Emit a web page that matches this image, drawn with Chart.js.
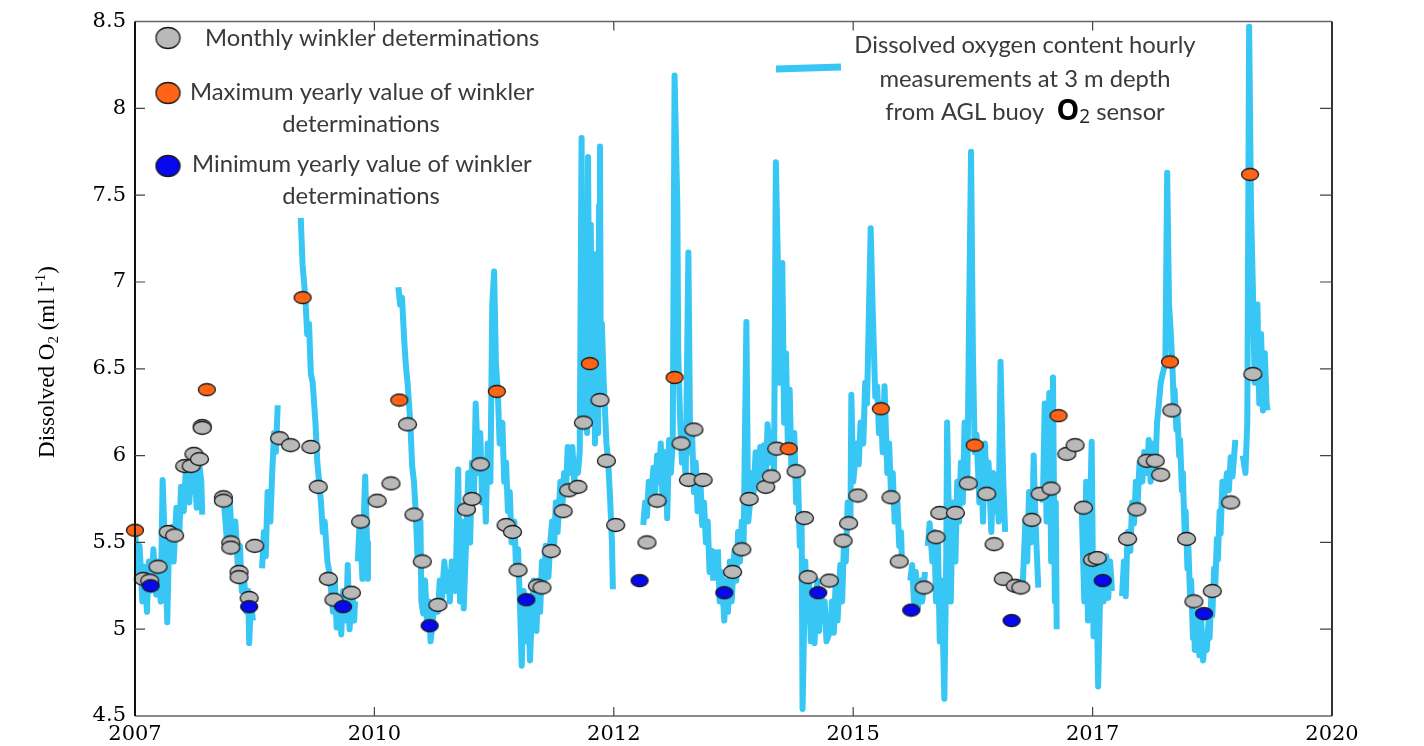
<!DOCTYPE html>
<html>
<head>
<meta charset="utf-8">
<script src="https://cdn.jsdelivr.net/npm/chart.js@4.4.1/dist/chart.umd.min.js"></script>
<style>
  html, body { margin: 0; padding: 0; background: #fff; overflow: hidden; }
  canvas { display: block; }
</style>
</head>
<body>
<canvas id="chart" width="1424" height="746"></canvas>
<script>
// x axis: 5 equal intervals between 2007 and 2020, labelled with rounded years
const xTickValues = [2007, 2009.6, 2012.2, 2014.8, 2017.4, 2020];
const xTickLabels = ['2007', '2010', '2012', '2015', '2017', '2020'];

// buoy O2 sensor, hourly record (traced), [year, ml/l]; separate arrays = gaps in the record
const buoy2007 = [[2007.00,5.58],[2007.03,5.30],[2007.05,5.48],[2007.08,5.16],[2007.10,5.36],[2007.13,5.10],[2007.15,5.39],[2007.17,5.22],[2007.20,5.46],[2007.23,5.20],[2007.25,5.39],[2007.28,5.16],[2007.30,5.86],[2007.33,5.39],[2007.35,5.04],[2007.37,5.50],[2007.40,5.59],[2007.42,5.39],[2007.45,5.70],[2007.48,5.53],[2007.50,5.82],[2007.53,5.68],[2007.55,5.90],[2007.59,5.73],[2007.61,5.94],[2007.63,5.79],[2007.65,5.90],[2007.67,5.70],[2007.70,5.94],[2007.72,5.85],[2007.73,5.66]];
const buoy2008a = [[2007.97,5.70],[2008.00,5.50],[2008.03,5.73],[2008.06,5.46],[2008.09,5.62],[2008.12,5.33],[2008.14,5.48],[2008.16,5.22],[2008.18,5.33],[2008.21,5.10],[2008.23,5.22],[2008.24,4.92],[2008.26,5.16],[2008.28,5.05]];
const buoy2008b = [[2008.38,5.35],[2008.40,5.56],[2008.42,5.42],[2008.44,5.79],[2008.47,5.62],[2008.49,5.90],[2008.51,6.13],[2008.53,6.02],[2008.55,6.29]];
const buoy2009a = [[2008.80,7.37],[2008.82,7.10],[2008.85,6.91],[2008.87,6.70],[2008.89,6.76],[2008.91,6.47],[2008.93,6.42],[2008.96,6.19],[2008.98,5.96],[2009.00,5.85],[2009.02,5.73],[2009.04,5.56],[2009.06,5.62],[2009.09,5.39],[2009.11,5.33],[2009.13,5.22],[2009.15,5.10],[2009.17,5.28],[2009.19,5.01],[2009.22,5.16],[2009.24,4.97],[2009.26,5.22],[2009.28,5.05],[2009.30,5.16],[2009.31,5.37],[2009.33,5.00],[2009.36,5.22],[2009.38,5.05],[2009.39,5.16]];
const buoy2009b = [[2009.42,5.39],[2009.44,5.62],[2009.47,5.29],[2009.49,5.73],[2009.50,5.88],[2009.52,5.50],[2009.53,5.29]];
const buoy2010 = [[2009.86,6.97],[2009.88,6.87],[2009.90,6.91],[2009.92,6.70],[2009.94,6.53],[2009.96,6.42],[2009.99,6.19],[2010.01,5.94],[2010.03,5.85],[2010.05,5.66],[2010.07,5.39],[2010.10,5.62],[2010.11,5.16],[2010.13,5.09],[2010.15,5.28],[2010.17,5.05],[2010.19,5.16],[2010.21,4.93],[2010.24,5.08],[2010.26,5.16],[2010.29,5.10],[2010.31,5.28],[2010.33,5.16],[2010.36,5.39],[2010.38,5.22],[2010.40,5.33],[2010.42,5.16],[2010.44,5.39],[2010.48,5.22],[2010.51,5.92],[2010.53,5.16],[2010.55,5.62],[2010.57,5.12],[2010.60,5.56],[2010.62,5.90],[2010.64,5.50],[2010.66,5.96],[2010.68,5.73],[2010.70,6.30],[2010.73,5.90],[2010.75,6.13],[2010.77,5.73],[2010.79,5.96],[2010.81,5.62],[2010.83,6.07],[2010.86,5.85],[2010.88,6.87],[2010.90,7.06],[2010.92,6.53],[2010.94,6.37],[2010.96,6.07],[2010.99,6.19],[2011.01,5.85],[2011.03,5.96],[2011.05,5.68],[2011.07,5.79],[2011.09,5.50],[2011.12,5.62],[2011.14,5.33],[2011.16,5.46],[2011.18,5.16],[2011.20,4.79],[2011.22,5.22],[2011.25,4.93],[2011.27,5.16],[2011.29,4.82],[2011.31,5.10],[2011.33,5.28],[2011.36,4.99],[2011.38,5.28],[2011.40,5.10],[2011.42,5.39],[2011.44,5.22],[2011.46,5.48],[2011.49,5.30],[2011.51,5.50],[2011.53,5.62],[2011.55,5.45],[2011.57,5.73],[2011.59,5.56],[2011.62,5.85],[2011.64,5.68],[2011.66,5.90],[2011.68,5.79],[2011.70,6.05],[2011.72,5.90],[2011.75,6.05],[2011.77,5.85],[2011.79,5.96],[2011.81,5.90],[2011.83,6.02],[2011.85,7.83],[2011.865,6.19],[2011.875,7.16],[2011.89,6.30],[2011.90,7.44],[2011.91,6.13],[2011.92,7.72],[2011.94,6.19],[2011.95,7.33],[2011.96,6.42],[2011.985,7.16],[2011.995,6.07],[2012.005,6.87],[2012.03,6.13],[2012.04,7.44],[2012.05,7.78],[2012.06,6.30],[2012.07,6.76],[2012.09,6.43],[2012.12,6.07],[2012.14,5.96],[2012.16,5.75],[2012.18,5.50],[2012.19,5.23]];
const buoy2012 = [[2012.52,5.60],[2012.54,5.73],[2012.56,5.65],[2012.58,5.85],[2012.60,5.73],[2012.63,5.93],[2012.65,5.79],[2012.67,6.00],[2012.69,5.85],[2012.71,6.07],[2012.73,5.73],[2012.76,6.02],[2012.78,5.64],[2012.80,6.09],[2012.82,5.90],[2012.84,6.07],[2012.86,8.19],[2012.89,7.44],[2012.90,6.59],[2012.92,6.21],[2012.94,5.96],[2012.96,6.13],[2012.98,5.85],[2013.01,7.17],[2013.03,6.02],[2013.05,6.13],[2013.07,5.79],[2013.09,5.96],[2013.11,5.68],[2013.14,5.86],[2013.16,5.60],[2013.18,5.73],[2013.20,5.50],[2013.22,5.62],[2013.24,5.33],[2013.27,5.45],[2013.28,5.28]];
const buoy2013 = [[2013.33,5.46],[2013.35,5.16],[2013.37,5.33],[2013.40,5.05],[2013.42,5.28],[2013.44,5.10],[2013.46,5.39],[2013.48,5.16],[2013.51,5.45],[2013.53,5.28],[2013.55,5.56],[2013.57,5.39],[2013.59,5.62],[2013.61,5.50],[2013.64,6.77],[2013.66,5.62],[2013.68,5.73],[2013.70,5.90],[2013.72,5.79],[2013.74,6.02],[2013.77,5.85],[2013.79,6.05],[2013.81,5.90],[2013.83,6.06],[2013.85,5.85],[2013.87,6.18],[2013.90,5.96],[2013.92,6.13],[2013.94,5.90],[2013.96,7.69],[2013.98,7.16],[2014.00,6.42],[2014.03,7.11],[2014.05,6.19],[2014.07,6.59],[2014.09,6.07],[2014.11,6.38],[2014.13,5.90],[2014.16,6.13],[2014.18,5.73],[2014.20,5.90],[2014.22,5.48],[2014.24,5.62],[2014.25,4.54],[2014.28,5.39],[2014.30,5.05],[2014.32,5.28],[2014.34,4.93],[2014.36,5.16],[2014.38,4.92],[2014.41,5.28],[2014.43,4.99],[2014.45,5.22],[2014.47,5.05],[2014.49,5.16],[2014.51,4.93],[2014.55,4.99],[2014.57,5.16],[2014.59,4.98],[2014.61,5.28],[2014.63,5.05],[2014.66,5.37],[2014.68,5.16],[2014.70,5.50],[2014.72,5.39],[2014.74,5.73],[2014.77,5.62],[2014.78,6.35],[2014.80,5.85],[2014.82,5.96],[2014.84,6.07],[2014.86,5.95],[2014.88,6.19],[2014.91,6.07],[2014.93,6.42],[2014.95,6.30],[2014.97,6.81],[2014.99,7.31],[2015.01,6.87],[2015.04,6.34],[2015.06,6.40],[2015.08,6.13],[2015.10,6.30],[2015.12,6.02],[2015.14,6.40],[2015.17,5.90],[2015.19,6.07],[2015.21,5.79],[2015.23,5.90],[2015.25,5.62],[2015.28,5.73],[2015.30,5.48],[2015.32,5.56],[2015.33,5.37]];
const buoy2015a = [[2015.42,5.28],[2015.44,5.37],[2015.46,5.16],[2015.48,5.33],[2015.50,5.11],[2015.53,5.28],[2015.55,5.16],[2015.58,5.33]];
const buoy2015b = [[2015.61,5.48],[2015.63,5.61],[2015.66,5.39],[2015.68,5.56],[2015.70,5.16],[2015.72,5.50],[2015.74,4.93],[2015.76,5.28],[2015.79,4.60],[2015.81,5.39],[2015.82,6.19],[2015.84,5.62],[2015.86,5.16],[2015.88,5.73],[2015.91,5.39],[2015.93,5.85],[2015.95,5.62],[2015.97,5.96],[2015.99,5.73],[2016.01,6.19],[2016.04,5.85],[2016.06,6.87],[2016.08,7.75],[2016.10,6.59],[2016.12,6.02],[2016.14,6.12],[2016.17,5.73],[2016.19,6.02],[2016.21,5.62],[2016.23,6.07],[2016.25,5.85],[2016.27,5.96],[2016.30,5.56],[2016.32,5.90],[2016.34,5.68],[2016.36,5.85],[2016.38,5.62],[2016.40,6.54],[2016.43,5.85],[2016.45,5.56]];
const buoy2016a = [[2016.64,5.24],[2016.67,5.62],[2016.69,5.39],[2016.71,5.79],[2016.73,5.50],[2016.75,5.73],[2016.76,6.00],[2016.78,5.62],[2016.81,5.24]];
const buoy2016b = [[2016.86,5.73],[2016.88,6.30],[2016.90,5.62],[2016.93,6.36],[2016.95,5.39],[2016.97,6.45],[2016.99,5.16],[2017.00,5.73],[2017.01,5.00]];
const buoy2017a = [[2017.28,5.73],[2017.31,5.16],[2017.33,5.85],[2017.35,5.05],[2017.37,5.62],[2017.39,6.08],[2017.41,4.96],[2017.44,5.39],[2017.46,4.67],[2017.48,5.16],[2017.50,5.39],[2017.52,5.16],[2017.55,5.42],[2017.57,5.18],[2017.59,5.39],[2017.61,5.22]];
const buoy2017b = [[2017.72,5.19],[2017.74,5.39],[2017.76,5.19],[2017.78,5.56],[2017.81,5.45],[2017.83,5.73],[2017.85,5.61],[2017.87,5.85],[2017.89,5.73],[2017.91,5.96],[2017.94,5.85],[2017.96,6.02],[2017.99,5.90],[2018.01,6.09],[2018.03,5.85],[2018.06,6.07],[2018.08,5.90],[2018.10,6.19],[2018.12,6.30],[2018.14,6.42],[2018.16,6.47],[2018.19,6.53],[2018.21,7.63],[2018.23,6.87],[2018.25,6.70],[2018.27,6.47],[2018.28,6.30],[2018.29,6.38],[2018.31,6.15],[2018.32,6.25],[2018.34,6.00],[2018.35,6.09],[2018.37,5.80],[2018.38,5.90],[2018.40,5.55],[2018.41,5.68],[2018.43,5.35],[2018.44,5.48],[2018.46,5.15],[2018.47,5.28],[2018.49,4.95],[2018.50,5.08],[2018.51,4.88],[2018.53,5.10],[2018.56,4.85],[2018.58,5.05],[2018.60,4.82],[2018.62,4.93],[2018.64,4.88],[2018.66,5.05],[2018.67,4.95],[2018.69,5.20],[2018.70,5.08],[2018.72,5.35],[2018.73,5.22],[2018.75,5.52],[2018.76,5.40],[2018.78,5.68],[2018.79,5.55],[2018.81,5.85],[2018.82,5.72],[2018.86,5.90],[2018.88,5.80],[2018.90,5.99],[2018.92,5.88],[2018.95,6.09]];
const buoy2019 = [[2019.03,6.00],[2019.06,5.90],[2019.08,6.19],[2019.10,8.47],[2019.12,7.44],[2019.14,6.98],[2019.16,6.42],[2019.19,6.87],[2019.21,6.30],[2019.23,6.70],[2019.25,6.26],[2019.27,6.59],[2019.29,6.30],[2019.30,6.26]];

// winkler determinations, [year, ml/l]
const monthlyWinkler = [[2007.09,5.29],[2007.16,5.28],[2007.25,5.36],[2007.36,5.56],[2007.43,5.54],[2007.54,5.94],[2007.61,5.94],[2007.64,6.01],[2007.70,5.98],[2007.73,6.17],[2007.73,6.16],[2007.96,5.76],[2007.96,5.74],[2008.04,5.50],[2008.04,5.47],[2008.13,5.33],[2008.13,5.30],[2008.24,5.18],[2008.30,5.48],[2008.57,6.10],[2008.69,6.06],[2008.91,6.05],[2008.99,5.82],[2009.10,5.29],[2009.16,5.17],[2009.35,5.21],[2009.45,5.62],[2009.63,5.74],[2009.78,5.84],[2009.96,6.18],[2010.03,5.66],[2010.12,5.39],[2010.29,5.14],[2010.60,5.69],[2010.66,5.75],[2010.75,5.95],[2011.03,5.60],[2011.10,5.56],[2011.16,5.34],[2011.37,5.25],[2011.42,5.24],[2011.52,5.45],[2011.65,5.68],[2011.71,5.80],[2011.81,5.82],[2011.87,6.19],[2012.05,6.32],[2012.12,5.97],[2012.22,5.60],[2012.56,5.50],[2012.67,5.74],[2012.93,6.07],[2013.01,5.86],[2013.07,6.15],[2013.17,5.86],[2013.49,5.33],[2013.59,5.46],[2013.67,5.75],[2013.85,5.82],[2013.91,5.88],[2013.97,6.04],[2014.18,5.91],[2014.27,5.64],[2014.31,5.30],[2014.54,5.28],[2014.69,5.51],[2014.75,5.61],[2014.85,5.77],[2015.21,5.76],[2015.30,5.39],[2015.57,5.24],[2015.70,5.53],[2015.74,5.67],[2015.91,5.67],[2016.05,5.84],[2016.25,5.78],[2016.33,5.49],[2016.43,5.29],[2016.56,5.25],[2016.62,5.24],[2016.74,5.63],[2016.83,5.78],[2016.95,5.81],[2017.12,6.01],[2017.21,6.06],[2017.30,5.70],[2017.40,5.40],[2017.45,5.41],[2017.78,5.52],[2017.88,5.69],[2017.99,5.97],[2018.08,5.97],[2018.14,5.89],[2018.26,6.26],[2018.42,5.52],[2018.50,5.16],[2018.70,5.22],[2018.90,5.73],[2019.14,6.47]];
const yearlyMax = [[2007.00,5.57],[2007.78,6.38],[2008.82,6.91],[2009.87,6.32],[2010.93,6.37],[2011.94,6.53],[2012.86,6.45],[2014.10,6.04],[2015.10,6.27],[2016.12,6.06],[2017.03,6.23],[2018.24,6.54],[2019.11,7.62]];
const yearlyMin = [[2007.17,5.25],[2008.24,5.13],[2009.26,5.13],[2010.20,5.02],[2011.25,5.17],[2012.48,5.28],[2013.40,5.21],[2014.42,5.21],[2015.43,5.11],[2016.52,5.05],[2017.51,5.28],[2018.61,5.09]];

const buoySegments = [buoy2007, buoy2008a, buoy2008b, buoy2009a, buoy2009b, buoy2010, buoy2012, buoy2013,
  buoy2015a, buoy2015b, buoy2016a, buoy2016b, buoy2017a, buoy2017b, buoy2019];

const LINE_BLUE = '#38c6f4';
const GRAY = '#b9b9b9';
const ORANGE = '#fd6416';
const BLUE = '#0808ee';
const TEXT = '#3a3a3a';

const buoyPoints = [];
buoySegments.forEach((seg, i) => {
  if (i > 0) buoyPoints.push({ x: seg[0][0] - 0.005, y: null });
  seg.forEach(([x, y]) => buoyPoints.push({ x, y }));
});
const toPts = arr => arr.map(([x, y]) => ({ x, y }));

function ellipseSprite(fill, w, h) {
  const c = document.createElement('canvas');
  c.width = w + 3;
  c.height = h + 3;
  const g = c.getContext('2d');
  g.beginPath();
  g.ellipse(c.width / 2, c.height / 2, w / 2, h / 2, 0, 0, Math.PI * 2);
  g.fillStyle = fill;
  g.fill();
  g.lineWidth = 1.3;
  g.strokeStyle = '#1a1a1a';
  g.stroke();
  return c;
}

const graySprite = ellipseSprite(GRAY, 18, 13);
const orangeSprite = ellipseSprite(ORANGE, 17, 12);
const blueSprite = ellipseSprite(BLUE, 17, 12);

// frame round the plot with inward tick marks
const framePlugin = {
  id: 'frame',
  afterDraw(chart) {
    const { ctx, chartArea: a, scales } = chart;
    ctx.save();
    ctx.lineCap = 'butt';
    ctx.strokeStyle = '#666';
    ctx.lineWidth = 1.5;
    ctx.beginPath();
    ctx.moveTo(a.left, a.top); ctx.lineTo(a.right, a.top);
    ctx.moveTo(a.left, a.bottom); ctx.lineTo(a.right, a.bottom);
    ctx.stroke();
    ctx.strokeStyle = '#111';
    ctx.lineWidth = 2;
    ctx.beginPath();
    ctx.moveTo(a.left, a.top); ctx.lineTo(a.left, a.bottom);
    ctx.stroke();
    ctx.strokeStyle = '#333';
    ctx.beginPath();
    ctx.moveTo(a.right, a.top); ctx.lineTo(a.right, a.bottom);
    ctx.stroke();

    ctx.lineWidth = 1.2;
    ctx.strokeStyle = '#444';
    ctx.beginPath();
    scales.y.ticks.forEach(t => {
      if (t.value <= 4.5 || t.value >= 8.5) return;
      const y = scales.y.getPixelForValue(t.value);
      ctx.moveTo(a.left, y); ctx.lineTo(a.left + 10, y);
      ctx.moveTo(a.right, y); ctx.lineTo(a.right - 12, y);
    });
    scales.x.ticks.forEach(t => {
      if (t.value <= 2007 || t.value >= 2020) return;
      const x = scales.x.getPixelForValue(t.value);
      ctx.moveTo(x, a.bottom); ctx.lineTo(x, a.bottom - 9);
      ctx.moveTo(x, a.top); ctx.lineTo(x, a.top + 9);
    });
    ctx.stroke();

    // y axis title with subscript / superscript
    ctx.translate(48, 362);
    ctx.rotate(-Math.PI / 2);
    ctx.fillStyle = '#000';
    ctx.textBaseline = 'middle';
    const big = '23px "Liberation Serif"';
    const small = '15px "Liberation Serif"';
    const parts = [
      ['Dissolved O', big, 0], ['2', small, 6], [' (ml l', big, 0], ['-1', small, -7], [')', big, 0]
    ];
    let total = 0;
    parts.forEach(p => { ctx.font = p[1]; total += ctx.measureText(p[0]).width; });
    let px = -total / 2;
    parts.forEach(p => {
      ctx.font = p[1];
      ctx.fillText(p[0], px, p[2]);
      px += ctx.measureText(p[0]).width;
    });
    ctx.restore();
  }
};

// legend boxes drawn as in the figure
const legendPlugin = {
  id: 'winklerLegend',
  afterDraw(chart) {
    const ctx = chart.ctx;
    ctx.save();
    const lg = [ellipseSprite(GRAY, 24, 21), ellipseSprite(ORANGE, 24, 21), ellipseSprite(BLUE, 24, 21)];
    const ly = [38, 93, 166];
    lg.forEach((s, i) => ctx.drawImage(s, 168 - s.width / 2, ly[i] - s.height / 2));

    ctx.font = '21px Lato';
    const fit = 335 / ctx.measureText('Monthly winkler determinations').width;
    const fs = 21 * fit;
    ctx.font = fs.toFixed(1) + 'px Lato';
    ctx.fillStyle = TEXT;
    ctx.textBaseline = 'middle';
    ctx.textAlign = 'left';
    ctx.fillText('Monthly winkler determinations', 205, 38);
    ctx.fillText('Maximum yearly value of winkler', 190, 92);
    ctx.fillText('Minimum yearly value of winkler', 192, 164);
    ctx.textAlign = 'center';
    ctx.fillText('determinations', 361, 124);
    ctx.fillText('determinations', 361, 196);

    ctx.fillText('Dissolved oxygen content hourly', 1025, 45);
    ctx.fillText('measurements at 3 m depth', 1025, 79);

    const pieces = [
      ['from AGL buoy  ', fs.toFixed(1) + 'px Lato', TEXT, 0],
      ['O', 'bold ' + (fs * 1.2).toFixed(1) + 'px "Open Sans"', '#000', 0],
      ['2', (fs * 0.8).toFixed(1) + 'px "Open Sans"', '#222', 6],
      [' sensor', fs.toFixed(1) + 'px Lato', TEXT, 0]
    ];
    ctx.textAlign = 'left';
    let w = 0;
    pieces.forEach(p => { ctx.font = p[1]; w += ctx.measureText(p[0]).width; });
    let x = 1025 - w / 2;
    pieces.forEach(p => {
      ctx.font = p[1];
      ctx.fillStyle = p[2];
      ctx.fillText(p[0], x, 112 + p[3]);
      x += ctx.measureText(p[0]).width;
    });

    ctx.strokeStyle = LINE_BLUE;
    ctx.lineWidth = 7;
    ctx.beginPath();
    ctx.moveTo(776, 69);
    ctx.lineTo(841, 67);
    ctx.stroke();
    ctx.restore();
  }
};

const tickFont = { family: '"DejaVu Serif"', size: 21 };

new Chart(document.getElementById('chart'), {
  type: 'scatter',
  data: {
    datasets: [
      { label: 'Maximum yearly value', data: toPts(yearlyMax), pointStyle: orangeSprite, pointRadius: 6, order: 1, clip: false },
      { label: 'Minimum yearly value', data: toPts(yearlyMin), pointStyle: blueSprite, pointRadius: 6, order: 1, clip: false },
      { label: 'Monthly winkler', data: toPts(monthlyWinkler), pointStyle: graySprite, pointRadius: 6, order: 2, clip: false },
      {
        label: 'Buoy O2 sensor', data: buoyPoints, showLine: true, spanGaps: false,
        borderColor: LINE_BLUE, borderWidth: 6, borderJoinStyle: 'round', borderCapStyle: 'butt',
        pointRadius: 0, tension: 0, order: 10
      }
    ]
  },
  options: {
    responsive: false,
    animation: false,
    devicePixelRatio: 1,
    layout: { padding: { left: 0, right: 92, top: 15, bottom: 0 } },
    plugins: { legend: { display: false }, tooltip: { enabled: false } },
    scales: {
      x: {
        type: 'linear', min: 2007, max: 2020,
        grid: { display: false, drawTicks: false },
        border: { display: false },
        afterBuildTicks: s => { s.ticks = xTickValues.map(v => ({ value: v })); },
        afterFit: s => { s.height = 30; },
        ticks: {
          callback: (v, i) => xTickLabels[i],
          font: tickFont, color: '#000', padding: 6, maxRotation: 0, autoSkip: false
        }
      },
      y: {
        min: 4.5, max: 8.5,
        grid: { display: false, drawTicks: false },
        border: { display: false },
        afterFit: s => { s.width = 135; },
        ticks: { stepSize: 0.5, font: tickFont, color: '#000', padding: 9, callback: v => String(v) }
      }
    }
  },
  plugins: [framePlugin, legendPlugin]
});
</script>
</body>
</html>
